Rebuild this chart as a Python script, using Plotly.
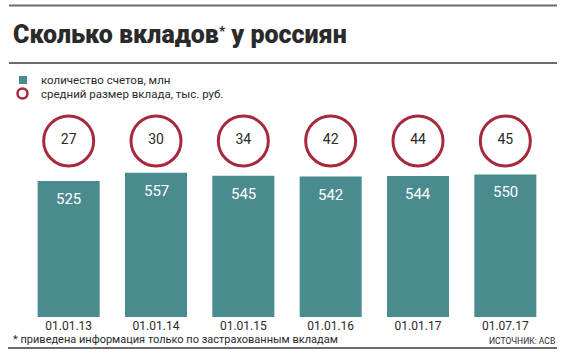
import plotly.graph_objects as go

dates = ["01.01.13", "01.01.14", "01.01.15", "01.01.16", "01.01.17", "01.07.17"]
accounts = [525, 557, 545, 542, 544, 550]
avg_deposit = [27, 30, 34, 42, 44, 45]

TEAL = "#4a8b8f"
RED = "#a8283c"
DARK = "#2a2a2a"
W, H = 570, 358
ML, MR, MT, MB = 25, 21, 63, 41
PW, PH = W - ML - MR, H - MT - MB


def px(x):
    return (x - ML) / PW


def py(y):
    return (H - MB - y) / PH


fig = go.Figure()
fig.add_trace(go.Bar(
    x=dates, y=accounts, marker=dict(color=TEAL, line=dict(width=0)),
    width=0.71, hoverinfo="skip", showlegend=False,
))
fig.add_trace(go.Scatter(
    x=dates, y=[0.693] * len(dates), yaxis="y2", mode="markers+text",
    marker=dict(symbol="circle", size=50, color="white", line=dict(color=RED, width=3)),
    text=[str(v) for v in avg_deposit], textposition="middle center",
    textfont=dict(family="Roboto", size=14, color=DARK),
    hoverinfo="skip", showlegend=False, cliponaxis=False,
))

annotations = []
for d, v in zip(dates, accounts):
    annotations.append(dict(x=d, y=v, xref="x", yref="y", text=str(v), showarrow=False,
                            yshift=-18, font=dict(family="Roboto", size=15, color="white")))

annotations += [
    dict(x=px(11), y=py(34), xref="paper", yref="paper", xanchor="left", yanchor="middle",
         text="Сколько вкладов<span style='font-size:19px'><sup>*</sup></span> у россиян",
         showarrow=False,
         font=dict(family="Roboto", size=25, color=DARK, weight=900)),
    dict(x=px(39), y=py(80), xref="paper", yref="paper", xanchor="left", yanchor="middle",
         text="количество счетов, млн", showarrow=False,
         font=dict(family="Roboto", size=11.5, color=DARK)),
    dict(x=px(39), y=py(94), xref="paper", yref="paper", xanchor="left", yanchor="middle",
         text="средний размер вклада, тыс. руб.", showarrow=False,
         font=dict(family="Roboto", size=11.5, color=DARK)),
    dict(x=px(11), y=py(339.5), xref="paper", yref="paper", xanchor="left", yanchor="middle",
         text="* приведена информация только по застрахованным вкладам", showarrow=False,
         font=dict(family="Roboto", size=11, color=DARK)),
    dict(x=px(557), y=py(341), xref="paper", yref="paper", xanchor="right", yanchor="middle",
         text="ИСТОЧНИК: АСВ", showarrow=False,
         font=dict(family="Roboto", size=8.5, color=DARK)),
]

line = dict(color="#6b6b6b", width=2)
shapes = [
    dict(type="line", xref="paper", yref="paper", x0=px(9), x1=px(557), y0=py(5.5), y1=py(5.5), line=line),
    dict(type="line", xref="paper", yref="paper", x0=px(9), x1=px(557), y0=py(63), y1=py(63), line=line),
    dict(type="line", xref="paper", yref="paper", x0=px(8), x1=px(557), y0=py(348), y1=py(348), line=line),
    dict(type="rect", xref="paper", yref="paper", x0=px(19), x1=px(27), y0=py(76), y1=py(84),
         fillcolor=TEAL, line=dict(width=0)),
    dict(type="circle", xref="paper", yref="paper", x0=px(17.5), x1=px(27.5), y0=py(88.5), y1=py(98.5),
         fillcolor="white", line=dict(color=RED, width=2.5)),
]

fig.update_layout(
    width=W, height=H, autosize=False,
    margin=dict(l=ML, r=MR, t=MT, b=MB),
    paper_bgcolor="white", plot_bgcolor="white",
    xaxis=dict(type="category", range=[-0.5, 5.5], showgrid=False, showline=False, ticks="",
               ticklabelstandoff=0,
               tickfont=dict(family="Roboto", size=12, color=DARK), fixedrange=True),
    yaxis=dict(range=[0, 980], visible=False, fixedrange=True),
    yaxis2=dict(range=[0, 1], overlaying="y", visible=False, fixedrange=True),
    annotations=annotations, shapes=shapes, bargap=0.29,
)
fig.write_html("out.html", config={"displayModeBar": False},
               post_script="document.body.style.margin='0';document.body.style.overflow='hidden';")
